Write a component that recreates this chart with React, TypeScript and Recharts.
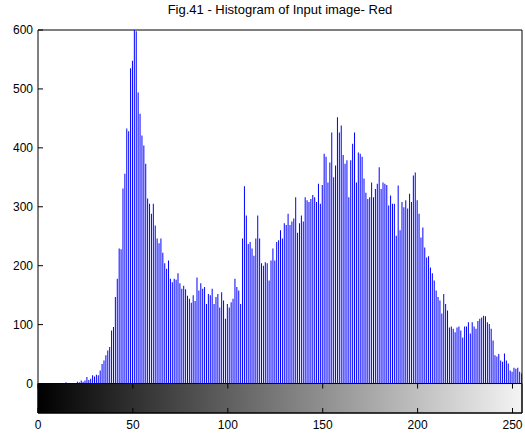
import React from 'react';
import { BarChart, Bar, XAxis, YAxis, ReferenceArea } from 'recharts';

const title = 'Fig.41 - Histogram of Input image- Red';

// pixel counts for intensity levels 0..255
const counts: number[] = [
  0, 0, 0, 0, 0, 0, 0, 0, 0, 0, 0, 0, 0, 0,
  0, 2, 0, 0, 1, 0, 1, 3, 2, 5, 3, 5, 11, 6, 8, 14, 12, 15, 14, 22,
  33, 39, 48, 56, 62, 90, 96, 147, 178, 229, 228, 331,
  356, 433, 428, 535, 548, 600, 598, 494, 458, 421,
  404, 373, 314, 305, 288, 305, 268, 246, 238, 246,
  222, 204, 195, 209, 178, 172, 178, 176, 187, 170,
  161, 166, 160, 149, 144, 137, 150, 140, 180,
  158, 170, 161, 164, 135, 152, 150, 161, 135, 147,
  152, 129, 155, 141, 110, 135, 129, 138, 144, 178,
  164, 158, 135, 246, 335, 285, 237, 240, 229, 217,
  246, 285, 246, 204, 200, 206, 204, 175, 209, 229,
  209, 240, 243,
  260, 246, 272, 269, 288, 269, 275, 280, 316, 256,
  272, 285, 275, 316, 311, 308, 313, 320, 316, 308,
  339, 305, 337, 390, 385, 341, 375, 426, 350, 370,
  452, 426, 438, 388, 373, 379, 316, 379, 407, 426,
  341, 392, 390, 385, 348, 324, 313, 316, 341, 316,
  330, 339, 367, 330, 341, 339, 337, 302, 319, 305,
  305, 251, 336,
  260, 308, 299, 311, 297, 322, 308, 353, 358, 311,
  288, 248, 265, 231, 214, 216, 197, 187, 175, 158,
  147, 141, 119, 152, 135, 124, 95, 97, 93, 87,
  95, 97, 90, 78, 97, 97, 104, 85, 104, 97,
  93, 106, 110, 112, 115, 114, 104, 101, 93, 73,
  48, 46, 50, 39, 37, 51, 39, 34, 22, 20,
  27, 25, 27, 20, 17,
];

const levels: number[] = counts.map((_, i) => i);
const xTicks: number[] = [0, 50, 100, 150, 200, 250];
const yTicks: number[] = [0, 100, 200, 300, 400, 500, 600];
const xDomain: [number, number] = [0, 255];
const yDomain: [number, number] = [-50, 600];

const data = levels.map((lv, i) => ({ level: lv, count: counts[i] }));

const W = 525;
const H = 441;
const M = { top: 30, right: 3, bottom: 0, left: 0 };
const Y_W = 38;
const X_H = 28;
const plotH = H - M.top - M.bottom - X_H;
const barPx = (0 - yDomain[0]) / (yDomain[1] - yDomain[0]) * plotH;

const FONT = '"Liberation Sans", Arial, Helvetica, sans-serif';
const TL = 5;

const LeftTick = (p: any) => (
  <g>
    <text x={p.x - 5} y={p.y} dy={4} textAnchor="end" fontSize={12} fontFamily={FONT} fill="#000">
      {p.payload.value}
    </text>
    <line x1={p.x} x2={p.x + TL} y1={p.y} y2={p.y} stroke="#000" />
  </g>
);

const RightTick = (p: any) => (
  <line x1={p.x - TL} x2={p.x} y1={p.y} y2={p.y} stroke="#000" />
);

const BottomTick = (p: any) => (
  <g>
    <text x={p.x} y={p.y} dy={16} textAnchor="middle" fontSize={12} fontFamily={FONT} fill="#000">
      {p.payload.value}
    </text>
    <line x1={p.x} x2={p.x} y1={p.y - TL} y2={p.y} stroke="#000" />
    <line x1={p.x} x2={p.x} y1={p.y - barPx} y2={p.y - barPx + TL} stroke="#000" />
  </g>
);

const TopTick = (p: any) => (
  <line x1={p.x} x2={p.x} y1={p.y} y2={p.y + TL} stroke="#000" />
);

export default function App() {
  return (
    <div style={{ position: 'absolute', left: 0, top: 0, width: W, height: H, background: '#fff' }}>
      <div
        style={{
          position: 'absolute',
          left: 38,
          width: 484,
          top: 2,
          textAlign: 'center',
          fontFamily: FONT,
          fontSize: 13,
          color: '#000',
        }}
      >
        {title}
      </div>
      <BarChart width={W} height={H} data={data} margin={M} barCategoryGap={0}>
        <defs>
          <linearGradient id="cbar" x1="0" y1="0" x2="1" y2="0">
            <stop offset="0%" stopColor="#000000" />
            <stop offset="100%" stopColor="#f4f4f4" />
          </linearGradient>
        </defs>
        <XAxis
          xAxisId="b"
          dataKey="level"
          type="number"
          domain={xDomain}
          ticks={xTicks}
          allowDataOverflow
          height={X_H}
          tickSize={0}
          tickMargin={0}
          axisLine={false}
          tickLine={false}
          tick={<BottomTick />}
          interval={0}
        />
        <XAxis
          xAxisId="t"
          orientation="top"
          dataKey="level"
          type="number"
          domain={xDomain}
          ticks={xTicks}
          allowDataOverflow
          height={0}
          tickSize={0}
          tickMargin={0}
          axisLine={false}
          tickLine={false}
          tick={<TopTick />}
          interval={0}
        />
        <YAxis
          yAxisId="l"
          type="number"
          domain={yDomain}
          ticks={yTicks}
          allowDataOverflow
          width={Y_W}
          tickSize={0}
          tickMargin={0}
          axisLine={false}
          tickLine={false}
          tick={<LeftTick />}
          interval={0}
        />
        <YAxis
          yAxisId="r"
          orientation="right"
          type="number"
          domain={yDomain}
          ticks={yTicks}
          allowDataOverflow
          width={0}
          tickSize={0}
          tickMargin={0}
          axisLine={false}
          tickLine={false}
          tick={<RightTick />}
          interval={0}
        />
        <ReferenceArea
          xAxisId="b"
          yAxisId="l"
          x1={xDomain[0]}
          x2={xDomain[1]}
          y1={yDomain[0]}
          y2={0}
          fill="url(#cbar)"
          fillOpacity={1}
          stroke="#000"
          strokeWidth={1}
          ifOverflow="visible"
        />
        <Bar
          xAxisId="b"
          yAxisId="l"
          dataKey="count"
          fill="#0000ff"
          barSize={1}
          isAnimationActive={false}
        />
        <ReferenceArea
          xAxisId="b"
          yAxisId="l"
          x1={xDomain[0]}
          x2={xDomain[1]}
          y1={yDomain[0]}
          y2={yDomain[1]}
          fill="none"
          fillOpacity={0}
          stroke="#000"
          strokeWidth={1}
          ifOverflow="visible"
        />
      </BarChart>
    </div>
  );
}
